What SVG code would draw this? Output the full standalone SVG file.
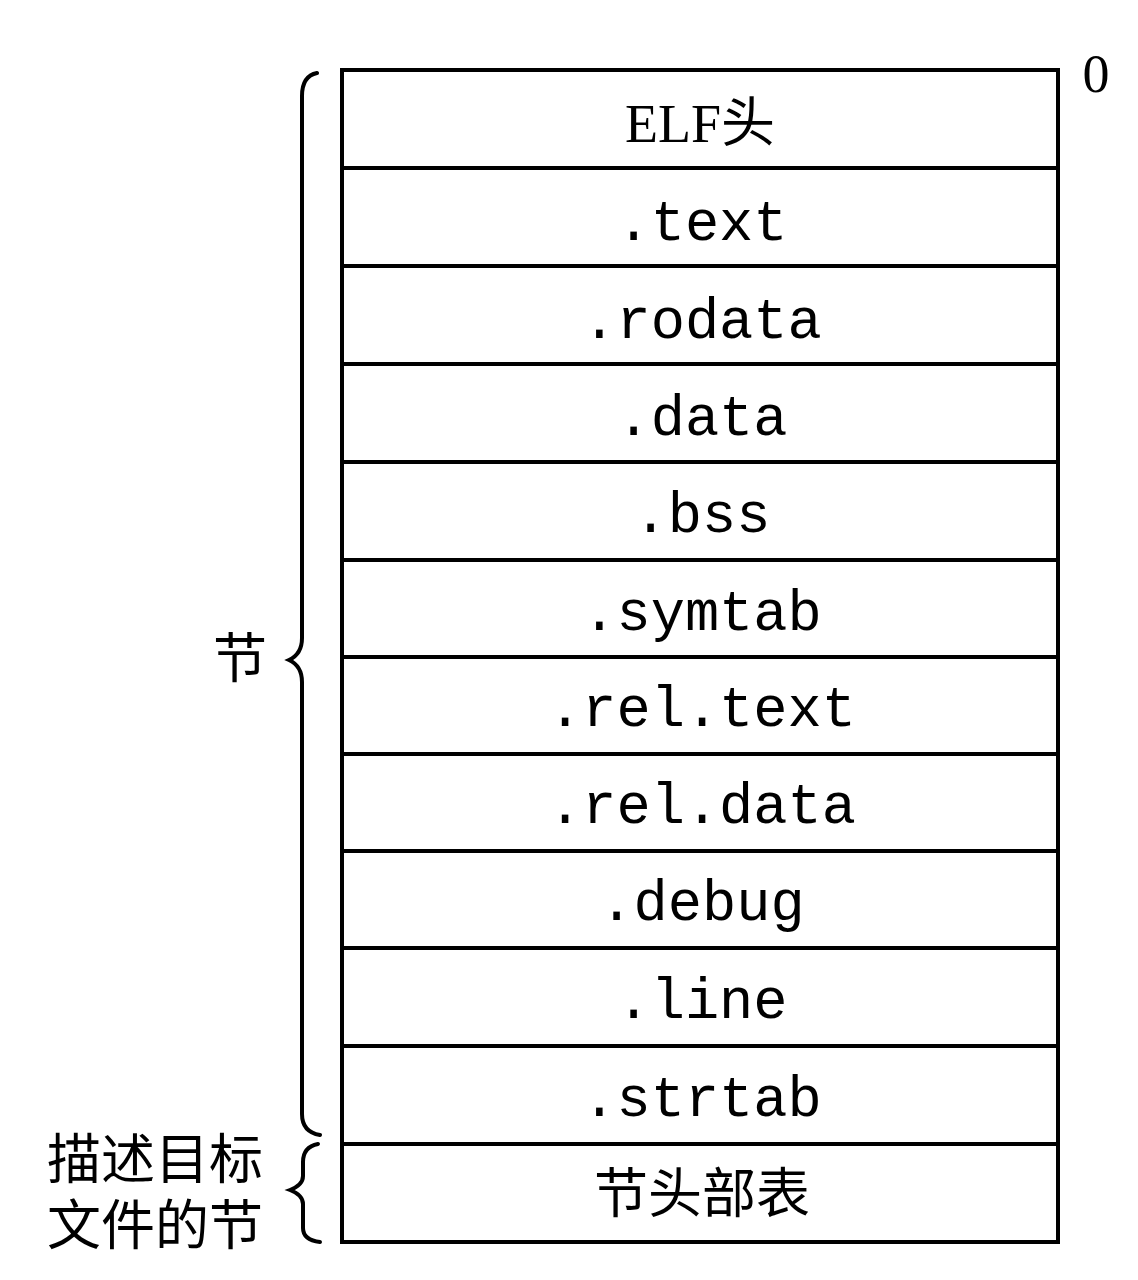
<svg xmlns="http://www.w3.org/2000/svg" width="1138" height="1280" viewBox="0 0 1138 1280">
<style>
.box{fill:#fff;stroke:#000;stroke-width:4}
.mono{font-family:"Liberation Mono","DejaVu Sans Mono",monospace;font-size:57px;text-anchor:middle;fill:#000}
.cjk{font-family:"Liberation Serif","Noto Sans CJK SC",serif;font-size:54px;fill:#000}
.brace{fill:none;stroke:#000;stroke-width:4;stroke-linecap:round}
</style>
<rect width="1138" height="1280" fill="#fff"/>
<g id="n-elf"><rect class="box" x="342" y="70" width="716" height="98"/><text class="cjk" x="700" y="142" text-anchor="middle" font-size="51">ELF头</text></g>
<g id="n-text"><rect class="box" x="342" y="168" width="716" height="98"/><text class="mono" x="702" y="240">.text</text></g>
<g id="n-rodata"><rect class="box" x="342" y="266" width="716" height="98"/><text class="mono" x="702" y="338">.rodata</text></g>
<g id="n-data"><rect class="box" x="342" y="364" width="716" height="98"/><text class="mono" x="702" y="435">.data</text></g>
<g id="n-bss"><rect class="box" x="342" y="462" width="716" height="98"/><text class="mono" x="702" y="532">.bss</text></g>
<g id="n-symtab"><rect class="box" x="342" y="560" width="716" height="97"/><text class="mono" x="702" y="630">.symtab</text></g>
<g id="n-reltext"><rect class="box" x="342" y="657" width="716" height="97"/><text class="mono" x="702" y="726">.rel.text</text></g>
<g id="n-reldata"><rect class="box" x="342" y="754" width="716" height="97"/><text class="mono" x="702" y="823">.rel.data</text></g>
<g id="n-debug"><rect class="box" x="342" y="851" width="716" height="97"/><text class="mono" x="702" y="920">.debug</text></g>
<g id="n-line"><rect class="box" x="342" y="948" width="716" height="98"/><text class="mono" x="702" y="1018">.line</text></g>
<g id="n-strtab"><rect class="box" x="342" y="1046" width="716" height="98"/><text class="mono" x="702" y="1116">.strtab</text></g>
<g id="n-shdr"><rect class="box" x="342" y="1144" width="716" height="98"/><text class="cjk" x="702" y="1213" text-anchor="middle" font-size="57">节头部表</text></g>
<text class="cjk" x="1096" y="92" text-anchor="middle" font-size="48">0</text>
<g id="connectors">
<path class="brace" d="M317,73 Q302,76 302,96 L302,638 Q302,654 289,660 Q302,666 302,682 L302,1114 Q302,1132 320,1135"/>
<path class="brace" d="M318,1144 Q303,1147 303,1162 L303,1176 Q303,1185 290,1190 Q303,1195 303,1204 L303,1228 Q303,1240 320,1242"/>
</g>
<text class="cjk" x="240" y="678" text-anchor="middle" font-size="50">节</text>
<text class="cjk" x="155" y="1179" text-anchor="middle" font-size="58">描述目标</text>
<text class="cjk" x="155" y="1245" text-anchor="middle" font-size="58">文件的节</text>
</svg>
